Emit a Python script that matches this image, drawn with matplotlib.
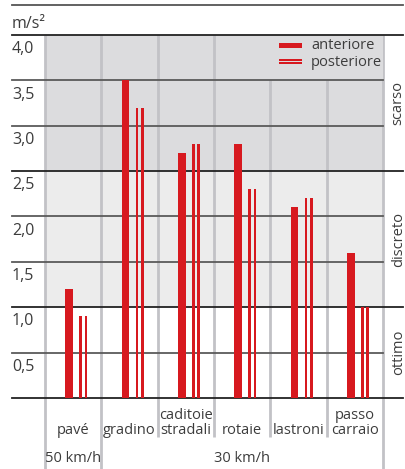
import matplotlib.pyplot as plt
from matplotlib.patches import Rectangle

plt.rcParams['font.family'] = ['Open Sans', 'DejaVu Sans']

# dati: accelerazione verticale (m/s²) per tipo di ostacolo
ostacoli = ['pavé', 'gradino', 'caditoie\nstradali', 'rotaie', 'lastroni', 'passo\ncarraio']
anteriore = [1.2, 3.5, 2.7, 2.8, 2.1, 1.6]
posteriore = [0.9, 3.2, 2.8, 2.3, 2.2, 1.0]
valori_asse = [0.5, 1.0, 1.5, 2.0, 2.5, 3.0, 3.5, 4.0]
etichette_asse = ['0,5', '1,0', '1,5', '2,0', '2,5', '3,0', '3,5', '4,0']
fasce = [(0.0, 1.0, 'ottimo'), (1.0, 2.5, 'discreto'), (2.5, 4.0, 'scarso')]
colori_fasce = ['#ffffff', '#ececec', '#dcdcde']
velocita = [('50 km/h', 0, 0), ('30 km/h', 1, 5)]

rosso = '#d7191f'
testo = '#3c3c3c'

fig = plt.figure(figsize=(4.06, 4.69), dpi=100)
ax = fig.add_axes([45 / 406, 71 / 469, 338 / 406, 363 / 469])
ax.set_xlim(-0.5, 5.5)
ax.set_ylim(0, 4.0)
ax.axis('off')

x_sin = -1.086   # inizio linee a sinistra
x_des = 5.855    # fine linee lunghe a destra

# fasce di giudizio
for (y0, y1, nome), c in zip(fasce, colori_fasce):
    ax.add_patch(Rectangle((-0.5, y0), 6, y1 - y0, facecolor=c, edgecolor='none', zorder=0))
    ax.text(5.77, (y0 + y1) / 2, nome, rotation=90, ha='center', va='center',
            fontsize=10.5, color=testo, clip_on=False)

# separatori verticali tra le colonne
n = len(ostacoli)
for k in range(n + 1):
    basso = -0.78 if k in (0, 1, n) else -0.43
    ax.plot([k - 0.5, k - 0.5], [basso, 4.0], color='#c2c2c6', lw=2.0,
            solid_capstyle='butt', clip_on=False, zorder=1)

# griglia orizzontale
limiti = {0.0, 1.0, 2.5, 4.0}
for v in [0.0] + valori_asse:
    if v in limiti:
        ax.plot([x_sin, x_des], [v, v], color='#222222', lw=1.3, clip_on=False, zorder=2)
    else:
        ax.plot([x_sin, 5.5], [v, v], color='#5a5a5a', lw=1.3, clip_on=False, zorder=2)
for v, lab in zip(valori_asse, etichette_asse):
    ax.text(x_sin, v - 0.2, lab, ha='left', va='baseline', fontsize=11.5,
            color=testo, clip_on=False)

ax.plot([x_sin, x_des], [4.331, 4.331], color='#555555', lw=1.3, clip_on=False)
ax.text(x_sin, 4.077, 'm/s²', ha='left', va='baseline', fontsize=11.5,
        color=testo, clip_on=False)

# barre: anteriore piena, posteriore doppia riga
xs = list(range(n))
larg = 0.14
ax.bar([x - 0.07 for x in xs], anteriore, width=larg, color=rosso, zorder=3)
sottile = larg / 3
ax.bar([x + 0.18 - sottile for x in xs], posteriore, width=sottile, color=rosso, zorder=3)
ax.bar([x + 0.18 + sottile for x in xs], posteriore, width=sottile, color=rosso, zorder=3)

# nomi degli ostacoli
for x, nome in zip(xs, ostacoli):
    ax.text(x, -0.44, nome, ha='center', va='bottom', fontsize=10.5, color=testo,
            linespacing=1.0, clip_on=False)
for lab, i0, i1 in velocita:
    ax.text((i0 + i1) / 2, -0.672, lab, ha='center', va='center', fontsize=10.5,
            color=testo, clip_on=False)

# legenda
ax.add_patch(Rectangle((3.34, 3.5), 2.16, 0.5, facecolor=colori_fasce[2],
                       edgecolor='none', zorder=1.5))
ax.add_patch(Rectangle((3.654, 3.86), 0.408, 0.055, facecolor=rosso,
                       edgecolor='none', zorder=3))
for yl in (3.73, 3.694):
    ax.add_patch(Rectangle((3.654, yl - 0.011), 0.408, 0.022, facecolor=rosso,
                           edgecolor='none', zorder=3))
ax.text(4.222, 3.888, 'anteriore', ha='left', va='center', fontsize=10.5, color=testo)
ax.text(4.222, 3.697, 'posteriore', ha='left', va='center', fontsize=10.5, color=testo)

fig.savefig('out.png', dpi=100)
